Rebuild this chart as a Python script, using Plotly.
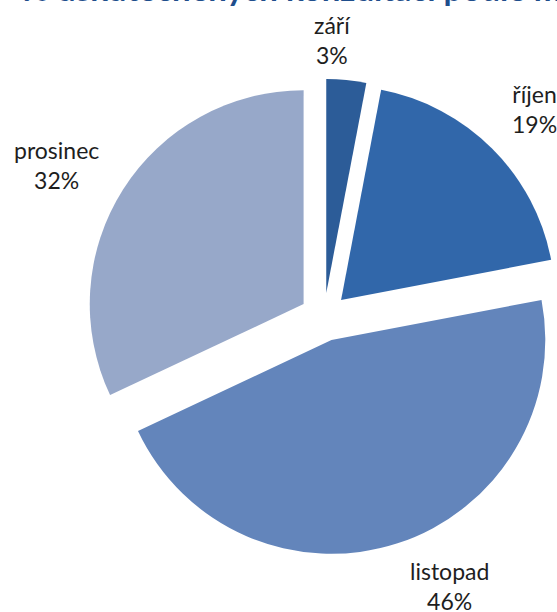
import math
import plotly.graph_objects as go

months = ["září", "říjen", "listopad", "prosinec"]
shares = [3, 19, 46, 32]
colors = ["#2c5c98", "#3167aa", "#6385bb", "#97a8c9"]
title_text = "% uskutečněných konzultací podle měsíců"

W, H = 572, 612  # figure is a bit wider than the 557 px view; the right edge is cropped
pull = 0.113
cx, cy = 324, 317
half = 238  # pixel half-size of pie box
label_size = 23
label_gap = 17
# small manual label nudges (px, x right / y down), like hand-placed Excel labels
label_nudge = [(-18, 4), (3, -1), (35, -10), (-8, 13)]

x0, x1 = (cx - half) / W, min(1, (cx + half) / W)
y0, y1 = 1 - (cy + half) / H, 1 - (cy - half) / H

fig = go.Figure(go.Pie(
    labels=months,
    values=shares,
    sort=False,
    direction="clockwise",
    rotation=0,
    pull=[pull] * len(shares),
    marker=dict(colors=colors, line=dict(width=0)),
    textinfo="none",
    automargin=False,
    domain=dict(x=[x0, x1], y=[y0, y1]),
    showlegend=False,
    hoverinfo="label+percent",
))

# data labels placed outside each slice along its mid-angle
pcx = (x0 + x1) / 2 * W
pcy = (1 - (y0 + y1) / 2) * H
box = min((x1 - x0) * W, (y1 - y0) * H)
r_out = box / 2  # radius + pull offset
total = sum(shares)
cum = 0
for (name, v), (nx, ny) in zip(zip(months, shares), label_nudge):
    mid = (cum + v / 2) / total * 2 * math.pi
    cum += v
    ux, uy = math.sin(mid), -math.cos(mid)
    w = max(len(name), len(f"{v}%")) * 0.5 * label_size
    h = 2 * 1.1 * label_size
    ext = abs(ux) * w / 2 + abs(uy) * h / 2
    d = r_out + label_gap + ext
    px, py = pcx + d * ux + nx, pcy + d * uy + ny
    fig.add_annotation(
        text=f"{name}<br>{v}%", xref="paper", yref="paper",
        x=px / W, y=1 - py / H,
        xanchor="center", yanchor="middle", showarrow=False, align="center",
        font=dict(family="Lato", size=label_size, color="#1e1e1e"),
    )

fig.add_annotation(
    text="<b>" + title_text + "</b>",
    xref="paper", yref="paper", x=20 / W, y=1 - 10 / H,
    xanchor="left", yanchor="bottom", showarrow=False,
    font=dict(family="Lato", size=33, color="#1f4e8c"),
)

fig.update_layout(
    width=W, height=H,
    margin=dict(l=0, r=0, t=0, b=0, pad=0, autoexpand=False),
    paper_bgcolor="white", plot_bgcolor="white",
)
fig.write_html(
    "out.html",
    config={"displayModeBar": False},
    post_script="document.body.style.margin='0';document.body.style.overflow='hidden';",
)
